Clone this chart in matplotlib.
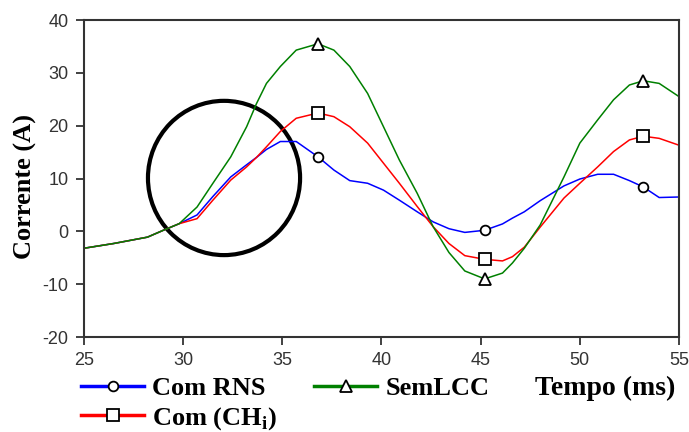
import matplotlib

matplotlib.use("Agg")
import matplotlib.pyplot as plt
from matplotlib.patches import Ellipse
import numpy as np

plt.rcParams["axes.unicode_minus"] = False

# time (ms) samples
t = [25.0, 26.5, 28.2, 29.0, 29.8, 30.7, 31.5, 32.4, 33.2, 33.7, 34.2, 34.9, 35.7, 36.8,
     37.6, 38.4, 39.3, 40.1, 40.9, 41.8, 42.6, 43.4, 44.2, 45.2,
     46.1, 46.6, 47.2, 48.0, 49.2, 50.0, 50.9, 51.7, 52.5, 53.2, 54.0, 55.0]

com_rns = [-3.2, -2.3, -1.1, 0.2, 1.45, 3.1, 6.6, 10.3, 12.6, 14.0, 15.5, 17.0, 17.0, 14.1,
           11.6, 9.6, 9.1, 7.8, 5.9, 3.7, 1.8, 0.5, -0.2, 0.2,
           1.4, 2.5, 3.7, 5.8, 8.6, 9.9, 10.8, 10.8, 9.6, 8.4, 6.4, 6.5]

com_ch = [-3.2, -2.3, -1.1, 0.2, 1.45, 2.4, 5.9, 9.7, 12.2, 14.0, 16.0, 18.9, 21.4, 22.4,
          21.7, 19.8, 16.7, 12.9, 9.1, 4.7, 0.9, -2.3, -4.6, -5.3,
          -5.6, -4.8, -3.0, 0.8, 6.3, 9.1, 12.2, 15.1, 17.3, 18.0, 17.6, 16.3]

sem_lcc = [-3.2, -2.3, -1.1, 0.2, 1.45, 4.6, 9.1, 14.1, 19.8, 24.2, 28.0, 31.2, 34.3, 35.5,
           34.3, 31.2, 26.1, 19.8, 13.5, 7.2, 0.9, -4.0, -7.5, -9.0,
           -7.9, -6.0, -3.2, 1.2, 10.3, 16.7, 21.1, 24.9, 27.7, 28.5, 28.0, 25.5]

# marker positions (ms)
marker_t = [36.8, 45.2, 53.2]

fig = plt.figure(figsize=(6.89, 4.32), dpi=100)
ax = fig.add_axes([0.1219, 0.2199, 0.8636, 0.7338])

series = [
    ("Com RNS", com_rns, "#0000ff", "o", 7),
    ("Com (CH$_\\mathregular{i}$)", com_ch, "#ff0000", "s", 9),
    ("SemLCC", sem_lcc, "#008000", "^", 9),
]
for label, y, color, mk, ms in series:
    idx = [t.index(m) for m in marker_t]
    ax.plot(t, y, color=color, linewidth=1.1, marker=mk, markevery=idx,
            markersize=ms, markerfacecolor="white", markeredgecolor="black",
            markeredgewidth=1.3, label=label)

# highlight circle around the divergence region
ax.add_patch(Ellipse((32.06, 10.1), 7.67, 29.2, fill=False, edgecolor="black", linewidth=3))

ax.set_xlim(25, 55)
ax.set_ylim(-20, 40)
ax.set_xticks(np.arange(25, 56, 5))
ax.set_yticks(np.arange(-20, 41, 10))
ax.tick_params(direction="out", length=6, width=1.3, pad=5, labelsize=13, colors="#333333")
for lab in ax.get_xticklabels() + ax.get_yticklabels():
    lab.set_family("Liberation Sans")
for sp in ax.spines.values():
    sp.set_linewidth(1.5)
    sp.set_color("#333333")

ax.set_ylabel("Corrente (A)", family="Liberation Serif", fontweight="bold", fontsize=19,
              va="center", ha="center")
ax.yaxis.set_label_coords(-0.098, 0.475)
ax.set_xlabel("Tempo (ms)", family="Liberation Serif", fontweight="bold", fontsize=20,
              va="center", ha="center")
ax.xaxis.set_label_coords(0.876, -0.161)

leg = ax.legend(ncol=2, loc="upper left", bbox_to_anchor=(-0.005, -0.125), frameon=False,
                prop={"family": "Liberation Serif", "weight": "bold", "size": 19},
                handlelength=2.4, handletextpad=0.3, columnspacing=1.4, labelspacing=0.18,
                borderpad=0, borderaxespad=0)
for line in leg.get_lines():
    line.set_linewidth(2.5)

plt.savefig("out.png", dpi=100)
plt.close(fig)
